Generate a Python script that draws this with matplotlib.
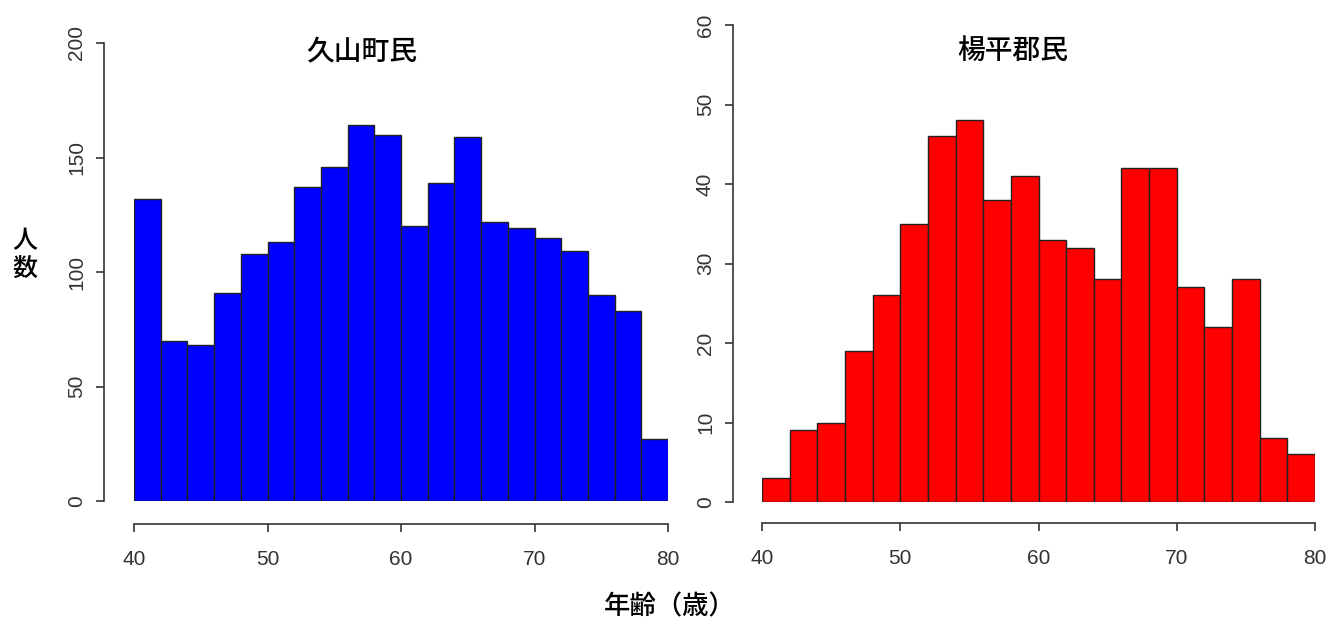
import numpy as np
import matplotlib
matplotlib.use('Agg')
import matplotlib.pyplot as plt

plt.rcParams['font.family'] = ['Noto Sans CJK JP', 'DejaVu Sans']

# age bins, 2-year width, 40 to 80
edges = np.arange(40, 82, 2)

# counts per bin
hisayama = [132, 70, 68, 91, 108, 113, 137, 146, 164, 160,
            120, 139, 159, 122, 119, 115, 109, 90, 83, 27]
yangpyeong = [3, 9, 10, 19, 26, 35, 46, 48, 38, 41,
              33, 32, 28, 42, 42, 27, 22, 28, 8, 6]

titles = ['久山町民', '楊平郡民']
xticks = [40, 50, 60, 70, 80]
yticks_left = [0, 50, 100, 150, 200]
yticks_right = [0, 10, 20, 30, 40, 50, 60]

PX = 0.72  # points per pixel at dpi=100

fig = plt.figure(figsize=(13.3, 6.26), dpi=100)

ax1 = fig.add_axes([134/1330, 1-501/626, 534/1330, 458/626])
ax2 = fig.add_axes([762/1330, 1-502/626, 553/1330, 477/626])

def rhist(ax, counts, color, ymax, yticks, xoff, yoff):
    ax.bar(edges[:-1], counts, width=2, align='edge', color=color,
           edgecolor='#222222', linewidth=1.0)
    ax.set_xlim(40, 80)
    ax.set_ylim(0, ymax)
    ax.set_xticks(xticks)
    ax.set_yticks(yticks)
    for s in ['top', 'right']:
        ax.spines[s].set_visible(False)
    ax.spines['left'].set_position(('outward', xoff*PX))
    ax.spines['bottom'].set_position(('outward', yoff*PX))
    ax.spines['left'].set_bounds(0, ymax)
    ax.spines['bottom'].set_bounds(40, 80)
    for s in ['left', 'bottom']:
        ax.spines[s].set_color('#333333')
        ax.spines[s].set_linewidth(1.2)
    ax.tick_params(direction='out', length=8*PX, width=1.2, color='#333333',
                   labelsize=15, labelcolor='#333333')
    ax.tick_params(axis='x', pad=18*PX)
    ax.tick_params(axis='y', pad=10*PX)
    for lab in ax.get_xticklabels() + ax.get_yticklabels():
        lab.set_fontfamily(['Liberation Sans', 'DejaVu Sans'])
    for lab in ax.get_yticklabels():
        lab.set_rotation(90)
        lab.set_va('center')

rhist(ax1, hisayama, '#0000ff', 200, yticks_left, 30, 23)
rhist(ax2, yangpyeong, '#ff0000', 60, yticks_right, 29, 21)

fig.text(362/1330, 1-52/626, titles[0], ha='center', va='center',
         fontsize=20, fontweight='medium')
fig.text(1013/1330, 1-50/626, titles[1], ha='center', va='center',
         fontsize=20, fontweight='medium')

fig.text(670/1330, 1-607/626, '年齢（歳）', ha='center', va='center',
         fontsize=19, fontweight='medium')
fig.text(25/1330, 1-255/626, '人\n数', ha='center', va='center', fontsize=18,
         fontweight='medium', linespacing=1.05)

fig.savefig('out.png', dpi=100)
